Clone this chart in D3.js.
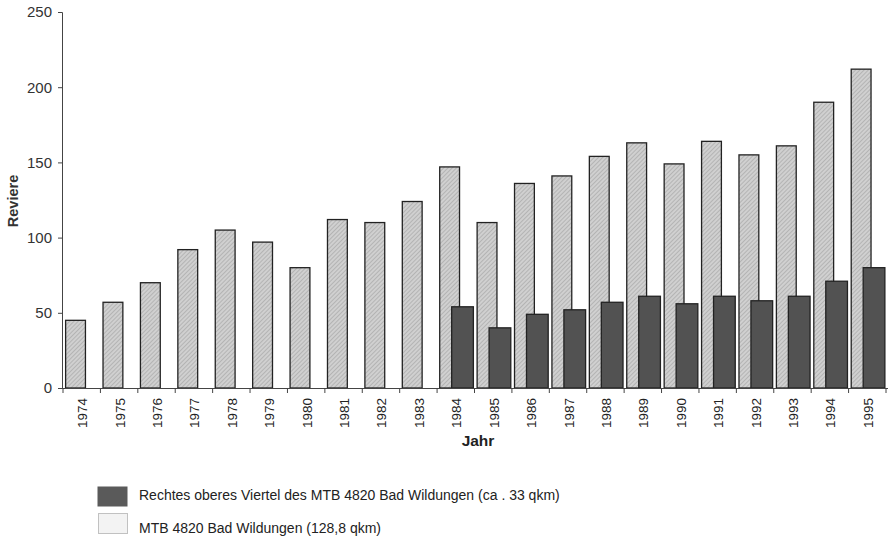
<!DOCTYPE html>
<html>
<head>
<meta charset="utf-8">
<script src="https://cdn.jsdelivr.net/npm/d3@7/dist/d3.min.js"></script>
<style>
  body { margin: 0; background: #fff; }
  text { font-family: "Liberation Sans", Arial, sans-serif; }
</style>
</head>
<body>
<svg id="chart" width="892" height="539"></svg>
<script>
const years = ["1974","1975","1976","1977","1978","1979","1980","1981","1982","1983","1984",
  "1985","1986","1987","1988","1989","1990","1991","1992","1993","1994","1995"];
const mtbTotal = [45,57,70,92,105,97,80,112,110,124,147,110,136,141,154,163,149,164,155,161,190,212];
const quarterYears = ["1984","1985","1986","1987","1988","1989","1990","1991","1992","1993","1994","1995"];
const quarterValues = [54,40,49,52,57,61,56,61,58,61,71,80];
const yTicks = [0,50,100,150,200,250];
const legendLabels = ["Rechtes oberes Viertel des MTB 4820 Bad Wildungen (ca . 33 qkm)",
  "MTB 4820 Bad Wildungen (128,8 qkm)"];

const svg = d3.select("#chart");
const defs = svg.append("defs");
const pat = defs.append("pattern").attr("id","hatch").attr("patternUnits","userSpaceOnUse")
  .attr("width",3).attr("height",3).attr("patternTransform","rotate(45)");
pat.append("rect").attr("width",3).attr("height",3).attr("fill","#d0d0d0");
pat.append("line").attr("x1",0).attr("y1",0).attr("x2",0).attr("y2",3)
  .attr("stroke","#a2a2a2").attr("stroke-width",1.2);

const x = d3.scaleBand().domain(years).range([63, 886]).paddingInner(0).paddingOuter(0);
const y = d3.scaleLinear().domain([0,250]).range([388, 12]);
const bw = x.bandwidth();

// y axis
const yAxis = d3.axisLeft(y).tickValues(yTicks).tickSize(4).tickPadding(6);
const gy = svg.append("g").attr("transform","translate(62,0)").call(yAxis);
gy.select(".domain").attr("stroke","#444");
gy.selectAll(".tick line").attr("stroke","#444");
gy.selectAll(".tick text").attr("font-size",15).attr("fill","#333")
  .attr("font-family","Liberation Sans, Arial, sans-serif");

// light bars
svg.append("g").selectAll("rect").data(years).join("rect")
  .attr("x", (d) => x(d) + 0.07*bw)
  .attr("width", 0.53*bw)
  .attr("y", (d,i) => y(mtbTotal[i]))
  .attr("height", (d,i) => y(0) - y(mtbTotal[i]))
  .attr("fill","url(#hatch)").attr("stroke","#222").attr("stroke-width",1.3);

// dark bars
svg.append("g").selectAll("rect").data(quarterYears).join("rect")
  .attr("x", (d) => x(d) + 0.39*bw)
  .attr("width", 0.58*bw)
  .attr("y", (d,i) => y(quarterValues[i]))
  .attr("height", (d,i) => y(0) - y(quarterValues[i]))
  .attr("fill","#525252").attr("stroke","#222").attr("stroke-width",1.3);

// x axis
const xAxisG = svg.append("g");
xAxisG.append("line").attr("x1",62).attr("x2",888).attr("y1",388.5).attr("y2",388.5)
  .attr("stroke","#444");
const tickPos = years.map(d => x(d)).concat([x(years[years.length-1]) + bw]);
xAxisG.selectAll("line.tk").data(tickPos).join("line").attr("class","tk")
  .attr("x1", d => d).attr("x2", d => d).attr("y1",388.5).attr("y2",393)
  .attr("stroke","#444");
xAxisG.selectAll("text").data(years).join("text")
  .attr("transform", d => `translate(${x(d) + bw/2 + 5.5},398) rotate(-90)`)
  .attr("text-anchor","end").attr("font-size",13.5).attr("fill","#222").text(d => d);

// axis titles
svg.append("text").attr("x",478).attr("y",446).attr("text-anchor","middle")
  .attr("font-size",15.5).attr("font-weight","bold").attr("fill","#222").text("Jahr");
svg.append("text").attr("transform","translate(18,201) rotate(-90)").attr("text-anchor","middle")
  .attr("font-size",14.5).attr("font-weight","bold").attr("fill","#333").text("Reviere");

// legend
const lg = svg.append("g");
lg.append("rect").attr("x",98).attr("y",487).attr("width",29).attr("height",19)
  .attr("fill","#5a5a5a").attr("stroke","#5a5a5a");
lg.append("rect").attr("x",98.5).attr("y",513.5).attr("width",29).attr("height",20)
  .attr("fill","#f3f3f3").attr("stroke","#888").attr("stroke-dasharray","1,1");
lg.append("text").attr("x",139).attr("y",500).attr("font-size",14).attr("fill","#222").text(legendLabels[0]);
lg.append("text").attr("x",139).attr("y",533).attr("font-size",14).attr("fill","#222").text(legendLabels[1]);
</script>
</body>
</html>
